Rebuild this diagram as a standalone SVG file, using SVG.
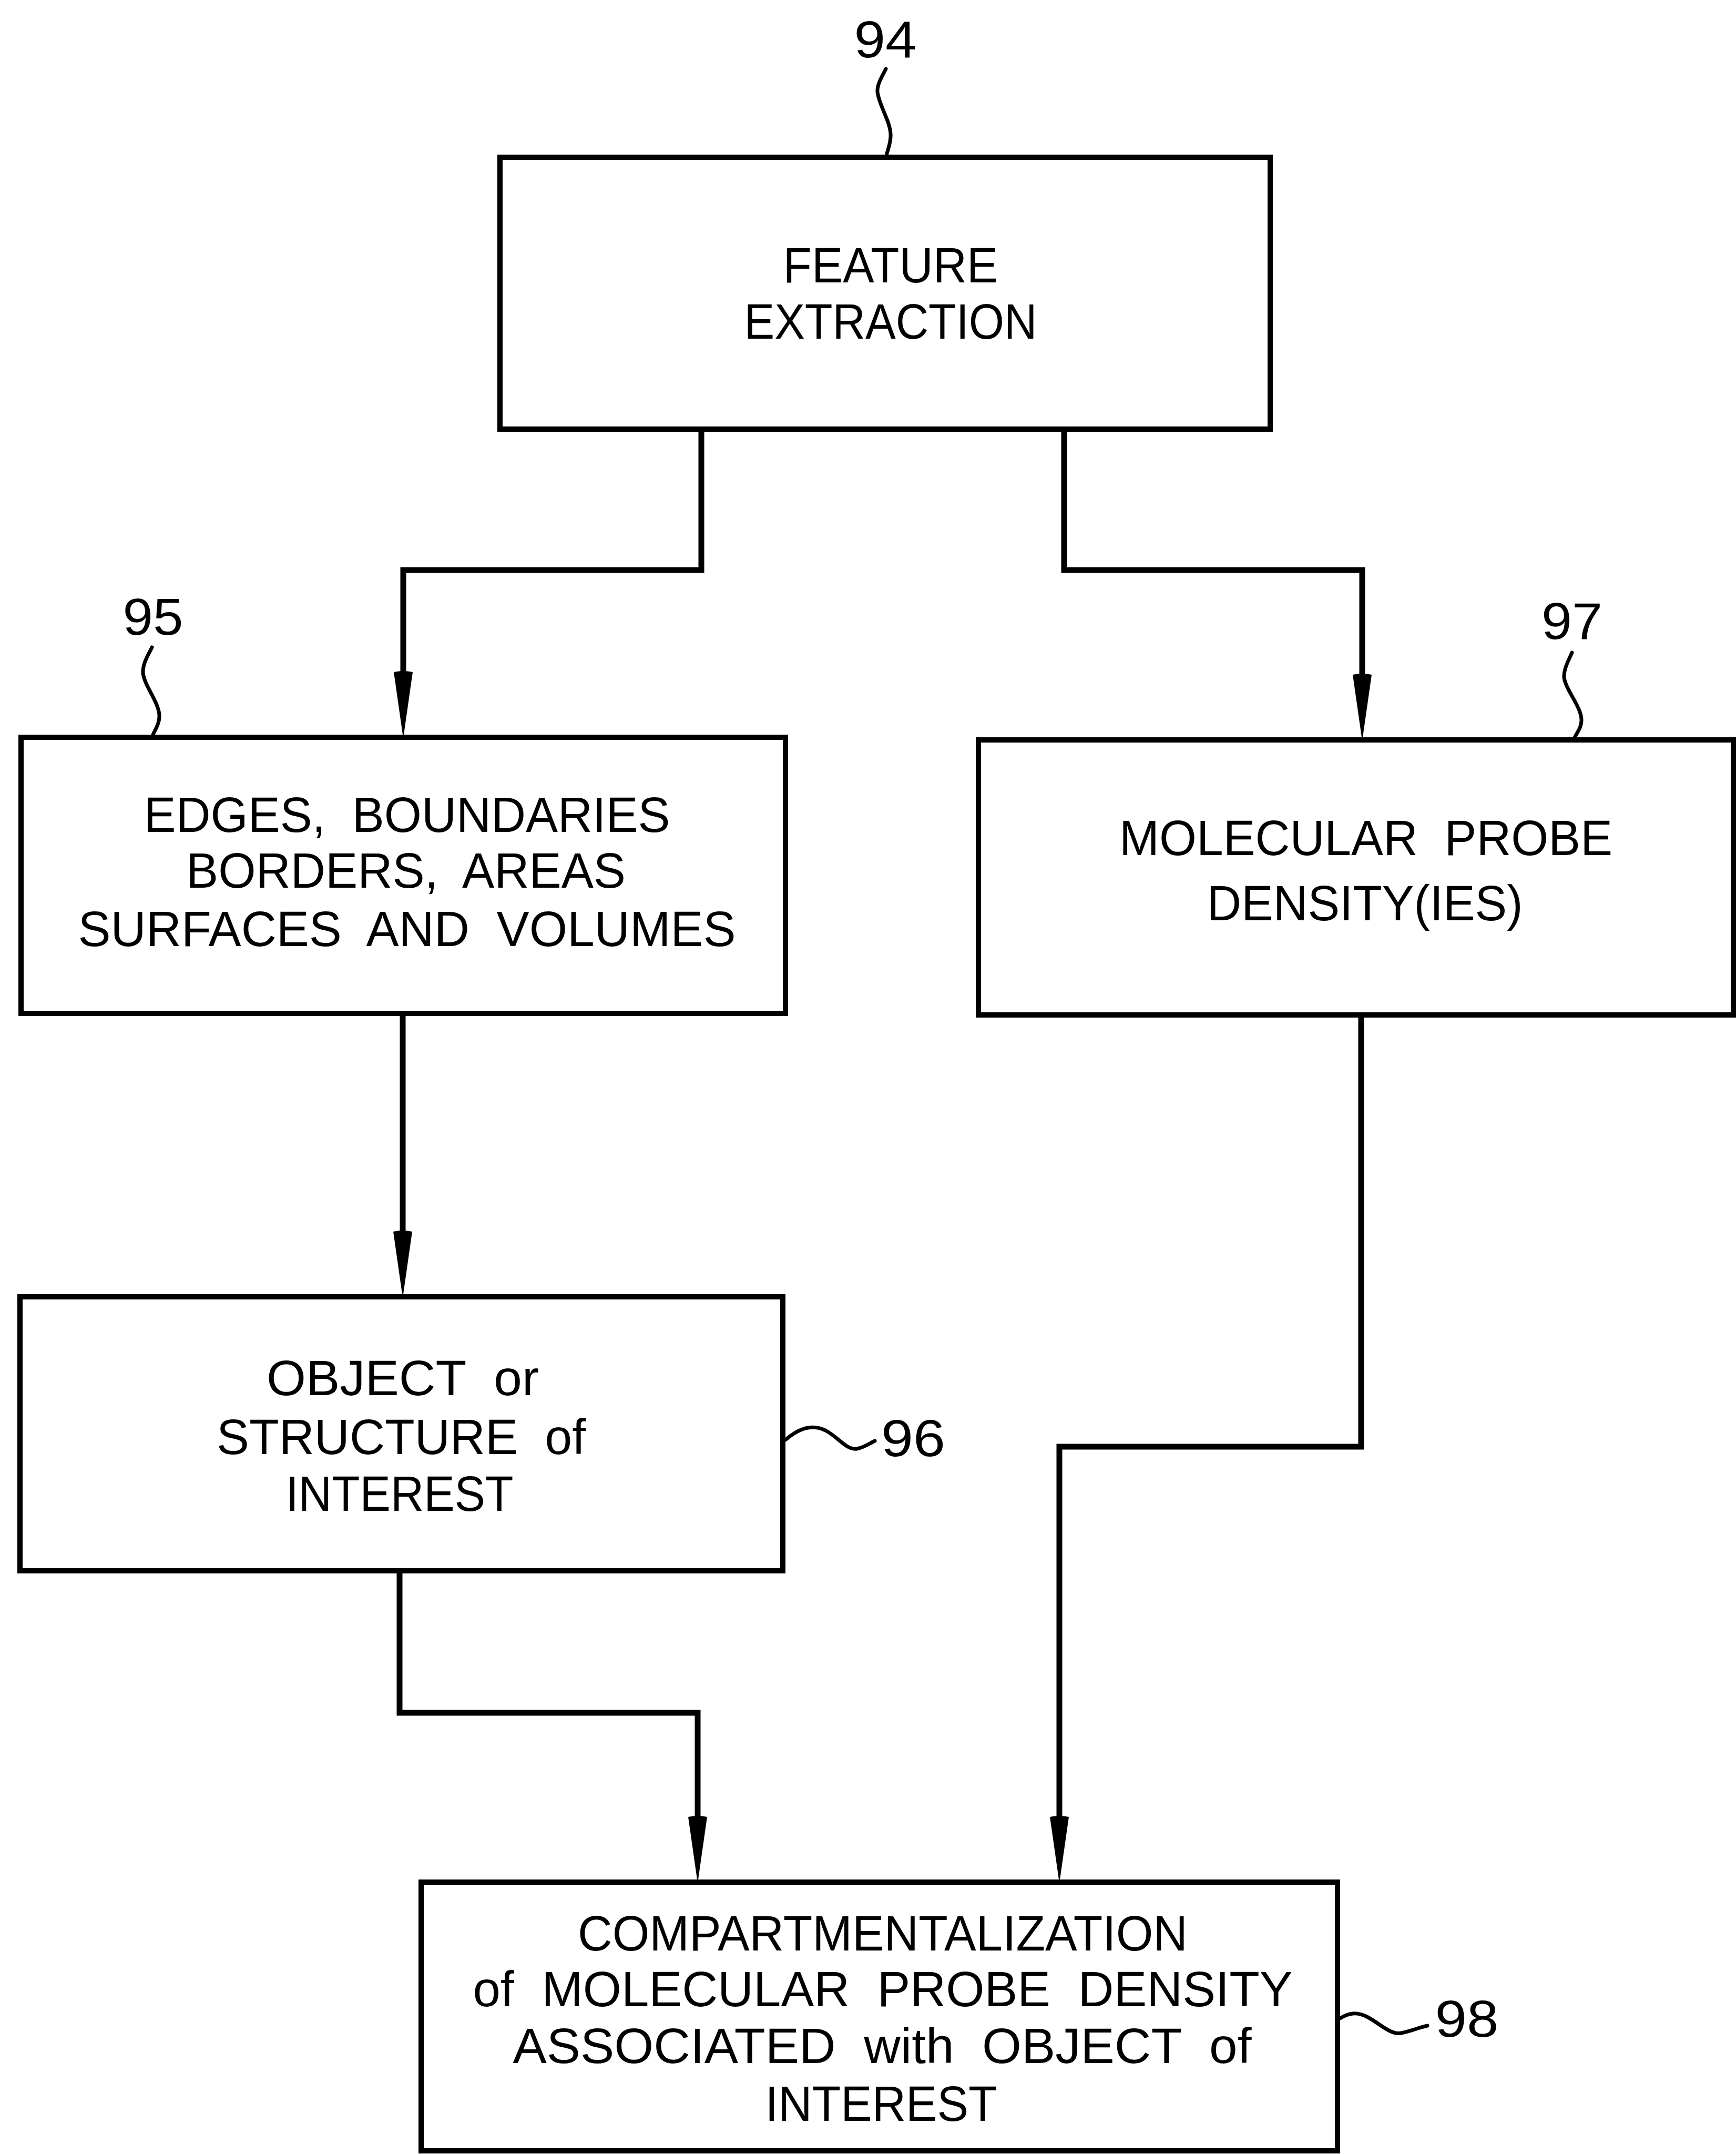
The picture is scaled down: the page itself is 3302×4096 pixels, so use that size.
<svg xmlns="http://www.w3.org/2000/svg" width="3302" height="4096" viewBox="0 0 3302 4096">
<style>
.box{fill:none;stroke:#000;stroke-width:10}
.conn{fill:none;stroke:#000;stroke-width:11;stroke-linejoin:miter}
.lead{fill:none;stroke:#000;stroke-width:7;stroke-linejoin:round;stroke-linecap:round}
.t{font-family:"Liberation Sans",Arial,sans-serif;font-size:95px;fill:#000;text-anchor:middle;white-space:pre}
.n{font-family:"Liberation Sans",Arial,sans-serif;font-size:99px;fill:#000;text-anchor:middle}
</style>
<defs>
<marker id="arr" markerUnits="userSpaceOnUse" markerWidth="130" markerHeight="40" refX="0" refY="20" orient="auto" overflow="visible">
<path d="M0,2 L126,20 L0,38 Q-4,20 0,2 Z" fill="#000"/>
</marker>
</defs>
<rect width="3302" height="4096" fill="#fff"/>
<g id="connectors">
<path class="conn" d="M1334,816 V1084 H767 V1278" marker-end="url(#arr)"/>
<path class="conn" d="M2024,816 V1084 H2591 V1283" marker-end="url(#arr)"/>
<path class="conn" d="M766,1927 V2342" marker-end="url(#arr)"/>
<path class="conn" d="M760,2987 V3257 H1327 V3455" marker-end="url(#arr)"/>
<path class="conn" d="M2589,1930 V2751 H2015 V3455" marker-end="url(#arr)"/>
</g>
<g id="node94">
<rect class="box" x="951" y="299" width="1465" height="517"/>
<text class="t" x="1694" y="537" textLength="409" lengthAdjust="spacingAndGlyphs">FEATURE</text>
<text class="t" x="1694" y="644" textLength="557" lengthAdjust="spacingAndGlyphs">EXTRACTION</text>
<path class="lead" d="M1685,131 C1678,145 1668,160 1669,175 C1672,200 1693,230 1694,255 C1695,272 1688,285 1686,296"/>
<text class="n" x="1684" y="109" textLength="119" lengthAdjust="spacingAndGlyphs">94</text>
</g>
<g id="node95">
<rect class="box" x="40" y="1402" width="1454" height="525"/>
<text class="t" x="774" y="1582" textLength="1001" lengthAdjust="spacingAndGlyphs">EDGES,  BOUNDARIES</text>
<text class="t" x="772" y="1688" textLength="836" lengthAdjust="spacingAndGlyphs">BORDERS,  AREAS</text>
<text class="t" x="774" y="1799" textLength="1251" lengthAdjust="spacingAndGlyphs">SURFACES  AND  VOLUMES</text>
<path class="lead" d="M289,1231 C282,1245 271,1262 272,1280 C275,1305 302,1335 303,1360 C304,1377 293,1390 290,1400"/>
<text class="n" x="291" y="1207" textLength="115" lengthAdjust="spacingAndGlyphs">95</text>
</g>
<g id="node97">
<rect class="box" x="1861" y="1407" width="1436" height="523"/>
<text class="t" x="2598" y="1626" textLength="938" lengthAdjust="spacingAndGlyphs">MOLECULAR  PROBE</text>
<text class="t" x="2596" y="1750" textLength="601" lengthAdjust="spacingAndGlyphs">DENSITY(IES)</text>
<path class="lead" d="M2990,1241 C2984,1255 2974,1272 2975,1288 C2978,1312 3007,1343 3008,1368 C3009,1384 2997,1396 2994,1405"/>
<text class="n" x="2990" y="1215" textLength="116" lengthAdjust="spacingAndGlyphs">97</text>
</g>
<g id="node96">
<rect class="box" x="38" y="2466" width="1451" height="521"/>
<text class="t" x="766" y="2653" textLength="518" lengthAdjust="spacingAndGlyphs">OBJECT  or</text>
<text class="t" x="763" y="2765" textLength="702" lengthAdjust="spacingAndGlyphs">STRUCTURE  of</text>
<text class="t" x="760" y="2873" textLength="433" lengthAdjust="spacingAndGlyphs">INTEREST</text>
<path class="lead" d="M1494,2738 C1520,2715 1545,2708 1570,2720 C1595,2733 1610,2758 1630,2755 C1645,2752 1655,2744 1664,2740"/>
<text class="n" x="1737" y="2769" textLength="122" lengthAdjust="spacingAndGlyphs">96</text>
</g>
<g id="node98">
<rect class="box" x="801" y="3579" width="1743" height="511"/>
<text class="t" x="1679" y="3709" textLength="1160" lengthAdjust="spacingAndGlyphs">COMPARTMENTALIZATION</text>
<text class="t" x="1679" y="3815" textLength="1559" lengthAdjust="spacingAndGlyphs">of  MOLECULAR  PROBE  DENSITY</text>
<text class="t" x="1678" y="3923" textLength="1405" lengthAdjust="spacingAndGlyphs">ASSOCIATED  with  OBJECT  of</text>
<text class="t" x="1676" y="4033" textLength="441" lengthAdjust="spacingAndGlyphs">INTEREST</text>
<path class="lead" d="M2549,3838 C2565,3828 2580,3825 2600,3835 C2625,3848 2645,3870 2665,3866 C2685,3862 2700,3855 2715,3852"/>
<text class="n" x="2790" y="3873" textLength="121" lengthAdjust="spacingAndGlyphs">98</text>
</g>
</svg>
